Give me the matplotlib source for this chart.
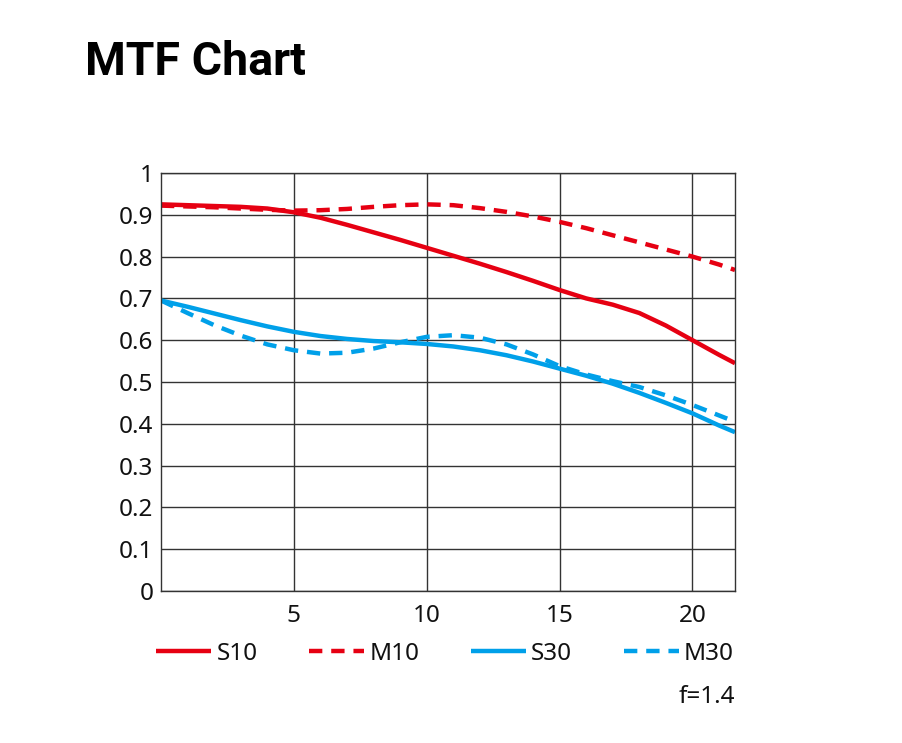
import matplotlib
matplotlib.use("Agg")
import matplotlib.pyplot as plt

freq = [0, 1, 2, 3, 4, 5, 6, 7, 8, 9, 10, 11, 12, 13, 14, 15, 16, 17, 18, 19, 20, 21, 21.6]
s10 = [0.925, 0.923, 0.921, 0.919, 0.915, 0.906, 0.893, 0.876, 0.858, 0.840, 0.821, 0.802,
       0.783, 0.763, 0.742, 0.720, 0.700, 0.685, 0.665, 0.635, 0.600, 0.565, 0.545]
m10 = [0.922, 0.920, 0.918, 0.915, 0.912, 0.910, 0.911, 0.914, 0.919, 0.923, 0.925, 0.923,
       0.916, 0.907, 0.896, 0.883, 0.868, 0.851, 0.834, 0.817, 0.800, 0.781, 0.768]
s30 = [0.695, 0.680, 0.664, 0.648, 0.633, 0.620, 0.610, 0.603, 0.598, 0.595, 0.591, 0.585,
       0.576, 0.564, 0.549, 0.532, 0.515, 0.496, 0.474, 0.450, 0.425, 0.396, 0.380]
m30 = [0.695, 0.665, 0.636, 0.611, 0.590, 0.576, 0.568, 0.570, 0.580, 0.595, 0.608, 0.612,
       0.606, 0.590, 0.566, 0.538, 0.518, 0.502, 0.488, 0.468, 0.445, 0.420, 0.405]

x_ticks = [5, 10, 15, 20]
y_ticks = [0, 0.1, 0.2, 0.3, 0.4, 0.5, 0.6, 0.7, 0.8, 0.9, 1]
y_labels = ["0", "0.1", "0.2", "0.3", "0.4", "0.5", "0.6", "0.7", "0.8", "0.9", "1"]
title = "MTF Chart"
note = "f=1.4"

RED = "#E60012"
BLUE = "#00A0E9"
GRID = "#333333"
TXT = "#111111"
TICKFONT = "Noto Sans"
FS = 17.5

fig = plt.figure(figsize=(9.03, 7.43), dpi=100)
ax = fig.add_axes([161/903, 1-591/743, (735-161)/903, (591-173)/743])

lw = 3.2
ax.plot(freq, s10, color=RED, lw=lw, label="S10", solid_capstyle="butt")
ax.plot(freq, m10, color=RED, lw=lw, dashes=(3.0, 2), label="M10")
ax.plot(freq, s30, color=BLUE, lw=lw, label="S30", solid_capstyle="butt")
ax.plot(freq, m30, color=BLUE, lw=lw, dashes=(3.0, 2), label="M30")

ax.set_xlim(0, 21.6)
ax.set_ylim(0, 1)
ax.set_xticks(x_ticks)
ax.set_yticks(y_ticks)
ax.set_yticklabels(y_labels)
ax.grid(True, color=GRID, lw=1)
ax.set_axisbelow(True)
for s in ax.spines.values():
    s.set_color(GRID)
    s.set_linewidth(1)
ax.tick_params(length=0, labelsize=FS, colors=TXT)
ax.tick_params(axis="y", pad=5.5)
ax.tick_params(axis="x", pad=9)
for lab in ax.get_xticklabels() + ax.get_yticklabels():
    lab.set_fontfamily(TICKFONT)

leg = ax.legend(loc="upper left", bbox_to_anchor=(-0.008, -0.122), ncol=4, frameon=False,
                handlelength=2.25, handletextpad=0.22, columnspacing=2.13,
                prop={"family": TICKFONT, "size": FS}, borderaxespad=0, borderpad=0)
for t in leg.get_texts():
    t.set_color(TXT)

fig.text(735/903, 1-697/743, note, ha="right", va="center", fontsize=FS,
         family=TICKFONT, color=TXT)
fig.text(85/903, 1-62/743, title, ha="left", va="center", fontsize=33.5,
         family="Roboto", fontweight="bold", color="#000000")

fig.savefig("out.png", dpi=100, facecolor="white")
